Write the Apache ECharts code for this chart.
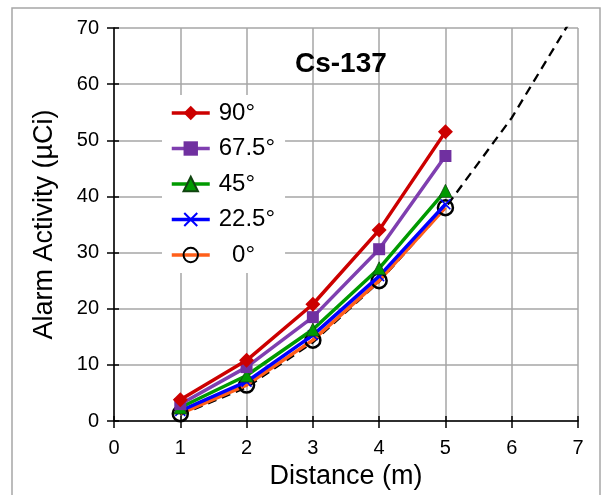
<!DOCTYPE html>
<html>
<head>
<meta charset="utf-8">
<script src="https://cdn.jsdelivr.net/npm/echarts@6/dist/echarts.min.js"></script>
<style>
  html, body { margin: 0; padding: 0; background: #fff; }
  #chart { width: 604px; height: 495px; }
</style>
</head>
<body>
<div id="chart"></div>
<script>
// data
var distance = [1, 2, 3, 4, 5];
var deg90 = [3.8, 10.8, 20.8, 34.0, 51.5];
var deg675 = [3.0, 9.6, 18.5, 30.6, 47.2];
var deg45 = [2.4, 8.1, 16.3, 27.2, 41.0];
var deg225 = [1.8, 7.0, 15.3, 25.8, 38.6];
var deg0 = [1.3, 6.4, 14.4, 25.0, 38.0];
var fitX = [1, 2, 3, 4, 5, 6, 7];
var fitY = [1.1, 6.0, 14.0, 24.8, 38.0, 54.0, 73.5];
var seriesNames = ["90°", "67.5°", "45°", "22.5°", "  0°"];

var FONT = "'Liberation Sans', Arial, sans-serif";

function pairs(xs, ys) {
  return xs.map(function (x, i) { return [x, ys[i]]; });
}

// x mark for 22.5°
var crossPath = "path://M0,1L1,0L5,4L9,0L10,1L6,5L10,9L9,10L5,6L1,10L0,9L4,5Z";

var chart = echarts.init(document.getElementById("chart"));

var option = {
  animation: false,
  backgroundColor: "#fff",
  graphic: [{
    type: "rect",
    shape: { x: 12, y: 8, width: 588, height: 500 },
    style: { fill: null, stroke: "#a6a6a6", lineWidth: 1.5 },
    z: -1
  }],
  title: {
    text: "Cs-137",
    left: 290,
    top: 45,
    textStyle: { fontFamily: FONT, fontSize: 28, fontWeight: "bold", color: "#000" }
  },
  legend: {
    orient: "vertical",
    left: 162,
    top: 95,
    data: seriesNames,
    backgroundColor: "#fff",
    padding: [6, 10, 6, 8],
    itemWidth: 38,
    itemHeight: 18,
    itemGap: 11.5,
    lineStyle: { width: 3.5 },
    textStyle: { fontFamily: FONT, fontSize: 24, color: "#000", padding: [0, 0, 0, 4] }
  },
  grid: { left: 114, right: 26, top: 28, bottom: 72 },
  xAxis: [{
    type: "value",
    min: 0,
    max: 7,
    interval: 1,
    name: "Distance (m)",
    nameLocation: "middle",
    nameGap: 42,
    nameTextStyle: { fontFamily: FONT, fontSize: 27, color: "#000" },
    axisLine: { lineStyle: { color: "#000", width: 1.5 } },
    axisTick: { show: true, length: 7, lineStyle: { color: "#000", width: 1.5 } },
    axisLabel: { margin: 17, fontFamily: FONT, fontSize: 20, color: "#000" },
    splitLine: { show: true, lineStyle: { color: "#a6a6a6", width: 1.5 } }
  }, {
    type: "value",
    min: 0,
    max: 7,
    interval: 1,
    position: "bottom",
    axisLine: { show: false },
    axisTick: { show: true, inside: true, length: 5, lineStyle: { color: "#000", width: 1.5 } },
    axisLabel: { show: false },
    splitLine: { show: false }
  }],
  yAxis: [{
    type: "value",
    min: 0,
    max: 70,
    interval: 10,
    name: "Alarm Activity (µCi)",
    nameLocation: "middle",
    nameGap: 56,
    nameTextStyle: { fontFamily: FONT, fontSize: 27, color: "#000" },
    axisLine: { show: true, lineStyle: { color: "#000", width: 1.5 } },
    axisTick: { show: true, length: 7, lineStyle: { color: "#000", width: 1.5 } },
    axisLabel: { margin: 15, fontFamily: FONT, fontSize: 20, color: "#000" },
    splitLine: { show: true, lineStyle: { color: "#a6a6a6", width: 1.5 } }
  }, {
    type: "value",
    min: 0,
    max: 70,
    interval: 10,
    position: "left",
    axisLine: { show: false },
    axisTick: { show: true, inside: true, length: 5, lineStyle: { color: "#000", width: 1.5 } },
    axisLabel: { show: false },
    splitLine: { show: false }
  }],
  series: [
    {
      name: "  0°",
      type: "line",
      data: pairs(distance, deg0),
      symbol: "circle",
      symbolSize: 15,
      lineStyle: { color: "#ff5f1a", width: 3.5 },
      itemStyle: { color: "rgba(255,255,255,0)", borderColor: "#000", borderWidth: 2.5 },
      z: 3
    },
    {
      name: "22.5°",
      type: "line",
      data: pairs(distance, deg225),
      symbol: crossPath,
      symbolSize: 11,
      lineStyle: { color: "#0000ff", width: 3.5 },
      itemStyle: { color: "#0000ff" },
      z: 4
    },
    {
      name: "45°",
      type: "line",
      data: pairs(distance, deg45),
      symbol: "triangle",
      symbolSize: 13,
      lineStyle: { color: "#009a00", width: 3.5 },
      itemStyle: { color: "#009a00", borderColor: "#114411", borderWidth: 0.8 },
      z: 5
    },
    {
      name: "67.5°",
      type: "line",
      data: pairs(distance, deg675),
      symbol: "rect",
      symbolSize: 12,
      lineStyle: { color: "#7f3fb0", width: 3.5 },
      itemStyle: { color: "#7030a0" },
      z: 6
    },
    {
      name: "90°",
      type: "line",
      data: pairs(distance, deg90),
      symbol: "diamond",
      symbolSize: 15,
      lineStyle: { color: "#cc0000", width: 3.5 },
      itemStyle: { color: "#cc0000" },
      z: 7
    },
    {
      name: "fit",
      type: "line",
      data: pairs(fitX, fitY),
      showSymbol: false,
      symbol: "none",
      lineStyle: { color: "#000", width: 2.3, type: [9, 6] },
      z: 2
    }
  ]
};

chart.setOption(option);
</script>
</body>
</html>
